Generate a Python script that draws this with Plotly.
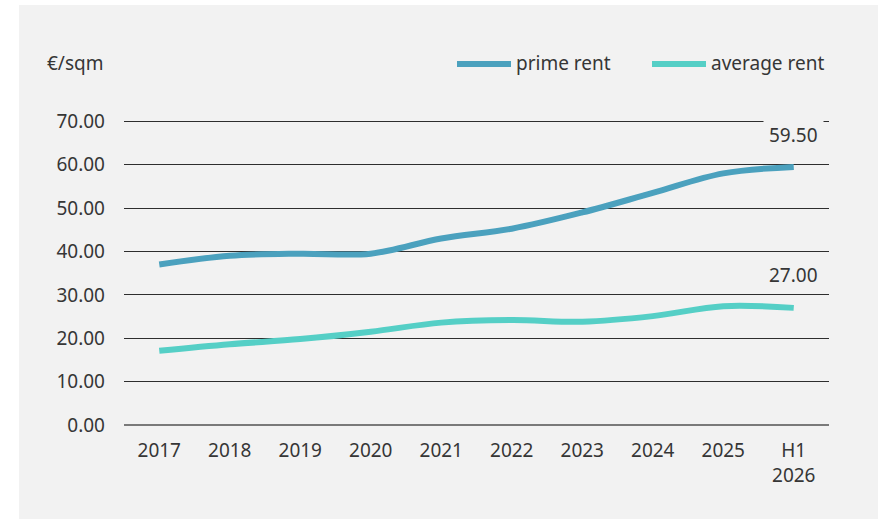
import plotly.graph_objects as go

categories = ["2017", "2018", "2019", "2020", "2021", "2022", "2023", "2024", "2025", "H1<br>2026"]
prime_rent = [37.0, 39.0, 39.5, 39.5, 43.0, 45.25, 49.0, 53.5, 58.0, 59.5]
average_rent = [17.1, 18.6, 19.8, 21.5, 23.6, 24.2, 23.8, 25.1, 27.4, 27.0]
y_ticks = [0, 10, 20, 30, 40, 50, 60, 70]

PRIME = "#4BA1BE"
AVG = "#55CFC6"
BG = "#F2F2F2"
TXT = "#363636"
FONT = "Noto Sans"

W, H = 884, 519
L, R, T, B = 124, 55, 117, 94
PW, PH = W - L - R, H - T - B


def px(x):
    return (x - L) / PW


def py(y):
    return (H - B - y) / PH


fig = go.Figure()
fig.add_trace(go.Scatter(x=categories, y=prime_rent, mode="lines", name="prime rent",
                         line=dict(color=PRIME, width=6, shape="spline"), showlegend=False))
fig.add_trace(go.Scatter(x=categories, y=average_rent, mode="lines", name="average rent",
                         line=dict(color=AVG, width=6, shape="spline"), showlegend=False))

shapes = [
    dict(type="rect", xref="paper", yref="paper", x0=px(19), x1=px(878), y0=py(522), y1=py(5),
         fillcolor=BG, line=dict(width=0), layer="below"),
    dict(type="line", xref="paper", yref="paper", x0=px(457), x1=px(511), y0=py(64), y1=py(64),
         line=dict(color=PRIME, width=6)),
    dict(type="line", xref="paper", yref="paper", x0=px(652), x1=px(706), y0=py(64), y1=py(64),
         line=dict(color=AVG, width=6)),
]

annotations = [
    dict(text="€/sqm", xref="paper", yref="paper", x=px(106), y=py(63), xanchor="right",
         yanchor="middle", showarrow=False, font=dict(size=19, color=TXT, family=FONT)),
    dict(text="prime rent", xref="paper", yref="paper", x=px(514), y=py(63), xanchor="left",
         yanchor="middle", showarrow=False, font=dict(size=19, color=TXT, family=FONT)),
    dict(text="average rent", xref="paper", yref="paper", x=px(709), y=py(63), xanchor="left",
         yanchor="middle", showarrow=False, font=dict(size=19, color=TXT, family=FONT)),
    dict(text=f"{prime_rent[-1]:.2f}", x=categories[-1], y=prime_rent[-1], yshift=32,
         showarrow=False, bgcolor=BG, borderpad=5, font=dict(size=19, color=TXT, family=FONT)),
    dict(text=f"{average_rent[-1]:.2f}", x=categories[-1], y=average_rent[-1], yshift=33,
         showarrow=False, bgcolor=BG, borderpad=2, font=dict(size=19, color=TXT, family=FONT)),
]

fig.update_layout(
    width=W, height=H,
    margin=dict(l=L, r=R, t=T, b=B, pad=0),
    paper_bgcolor="white", plot_bgcolor=BG,
    font=dict(family=FONT, size=19, color=TXT),
    shapes=shapes, annotations=annotations,
    showlegend=False,
)
fig.update_xaxes(type="category", range=[-0.5, 9.5], showgrid=False, showline=False,
                 ticks="", ticklabelstandoff=12, tickfont=dict(size=19, color=TXT))
fig.update_yaxes(range=[0, 71], tickvals=y_ticks, tickformat=".2f", showgrid=True,
                 gridcolor="#2e2e2e", gridwidth=1, zeroline=True, zerolinecolor="#7a7a7a",
                 zerolinewidth=2, showline=False, ticks="", ticklabelstandoff=18,
                 tickfont=dict(size=19, color=TXT))

fig.write_html("out.html")
